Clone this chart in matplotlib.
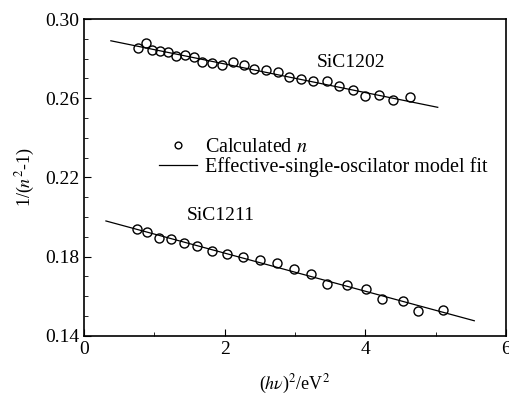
import numpy as np
import matplotlib
matplotlib.use("Agg")
import matplotlib.pyplot as plt
from matplotlib.ticker import MultipleLocator

plt.rcParams['font.family'] = ['Liberation Serif', 'DejaVu Serif']
plt.rcParams['mathtext.fontset'] = 'stix'

# SiC1202 calculated points
x1202 = [0.76, 0.88, 0.96, 1.08, 1.19, 1.30, 1.43, 1.56, 1.68, 1.82, 1.96, 2.12, 2.28,
         2.42, 2.59, 2.76, 2.92, 3.08, 3.26, 3.46, 3.63, 3.82, 4.00, 4.20, 4.39, 4.64]
y1202 = [0.2852, 0.2880, 0.2844, 0.2840, 0.2835, 0.2813, 0.2818, 0.2810, 0.2783, 0.2779,
         0.2768, 0.2781, 0.2768, 0.2746, 0.2743, 0.2734, 0.2709, 0.2699, 0.2686, 0.2687,
         0.2662, 0.2642, 0.2611, 0.2616, 0.2591, 0.2608]
# SiC1202 fit line
fit1202_x = [0.38, 5.03]
fit1202_y = [0.2890, 0.2554]

# SiC1211 calculated points
x1211 = [0.75, 0.90, 1.06, 1.23, 1.42, 1.61, 1.82, 2.03, 2.26, 2.50, 2.75, 2.99, 3.23,
         3.45, 3.74, 4.01, 4.24, 4.53, 4.75, 5.11]
y1211 = [0.1938, 0.1925, 0.1895, 0.1891, 0.1868, 0.1854, 0.1827, 0.1815, 0.1797, 0.1783,
         0.1767, 0.1736, 0.1713, 0.1661, 0.1656, 0.1636, 0.1588, 0.1578, 0.1526, 0.1528]
# SiC1211 fit line
fit1211_x = [0.31, 5.55]
fit1211_y = [0.1980, 0.1476]

yticks = [0.14, 0.18, 0.22, 0.26, 0.30]
xticks = [0, 2, 4, 6]

fig = plt.figure(figsize=(5.1, 3.96), dpi=100)
ax = fig.add_axes([0.165, 0.152, 0.827, 0.800])

ax.plot(x1202, y1202, 'o', mfc='none', mec='black', ms=6.5, mew=1.0, label=r'Calculated $n$')
ax.plot(fit1202_x, fit1202_y, '-', color='black', lw=0.9,
        label='Effective-single-oscilator model fit')
ax.plot(x1211, y1211, 'o', mfc='none', mec='black', ms=6.5, mew=1.0)
ax.plot(fit1211_x, fit1211_y, '-', color='black', lw=0.9)

ax.text(3.31, 0.2778, 'SiC1202', fontsize=14, va='center')
ax.text(1.46, 0.201, 'SiC1211', fontsize=14, va='center')

ax.set_xlim(0, 6)
ax.set_ylim(0.14, 0.30)
ax.set_xticks(xticks)
ax.xaxis.set_minor_locator(MultipleLocator(1))
ax.set_yticks(yticks)
ax.yaxis.set_minor_locator(MultipleLocator(0.01))
ax.yaxis.set_major_formatter(matplotlib.ticker.FormatStrFormatter('%.2f'))
ax.tick_params(which='both', direction='in', top=False, right=False, labelsize=14)
ax.tick_params(which='major', length=5)
ax.tick_params(which='minor', length=3)
for s in ax.spines.values():
    s.set_linewidth(1.2)

ax.set_xlabel(r'($h\nu$)$^2$/eV$^2$', fontsize=13, labelpad=11)
ax.set_ylabel(r'1/($n^2$-1)', fontsize=13, labelpad=6)

leg = ax.legend(loc='upper left', bbox_to_anchor=(0.177, 0.625), frameon=False, fontsize=14.5,
                handlelength=1.9, handletextpad=0.4, labelspacing=0.02, borderpad=0,
                borderaxespad=0, markerscale=0.75)

fig.savefig('out.png', dpi=100)
